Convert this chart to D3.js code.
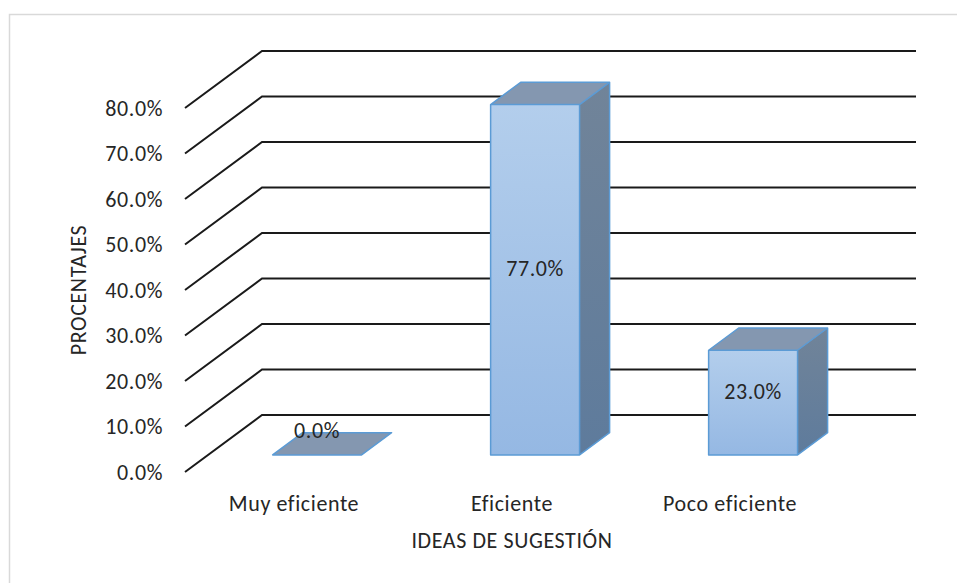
<!DOCTYPE html>
<html>
<head>
<meta charset="utf-8">
<script src="https://cdn.jsdelivr.net/npm/d3@7"></script>
<style>
  html, body { margin: 0; padding: 0; background: #fff; }
  text { font-family: Carlito, Lato, "Liberation Sans", sans-serif; fill: #262626; letter-spacing: 0.6px; }
</style>
</head>
<body>
<div id="chart"></div>
<script>
// data
const categories = ['Muy eficiente', 'Eficiente', 'Poco eficiente'];
const values = [0, 77, 23];
const yTicks = [0, 10, 20, 30, 40, 50, 60, 70, 80];
const xTitle = 'IDEAS DE SUGESTIÓN';
const yTitle = 'PROCENTAJES';

const width = 957, height = 583;
const fontSize = 22;

// front plane of the 3d box, plus the depth offset to the back wall
const front = {left: 185, right: 839, bottom: 472, top: 108};
const depth = {dx: 77, dy: -57};
const barZ0 = 0.3, barZ1 = 0.69;

const svg = d3.select('#chart').append('svg')
    .attr('width', width)
    .attr('height', height);

// chart area border (runs off the right/bottom edge)
svg.append('rect')
    .attr('x', 9.5).attr('y', 14.5)
    .attr('width', 1000).attr('height', 1000)
    .attr('fill', 'none')
    .attr('stroke', '#d9d9d9')
    .attr('stroke-width', 1.5);

const x = d3.scaleBand()
    .domain(categories)
    .range([front.left, front.right])
    .paddingInner(0.592)
    .paddingOuter(0.296);

const y = d3.scaleLinear()
    .domain([0, 80])
    .range([front.bottom, front.top]);

// x, y on the front plane, z from 0 (front) to 1 (back)
function project(px, py, z){
    return [px + z * depth.dx, py + z * depth.dy];
}

const defs = svg.append('defs');
const gFront = defs.append('linearGradient')
    .attr('id', 'gFront').attr('x1', 0).attr('y1', 0).attr('x2', 0).attr('y2', 1);
gFront.append('stop').attr('offset', '0%').attr('stop-color', '#b3ceec');
gFront.append('stop').attr('offset', '100%').attr('stop-color', '#95b8e3');
const gSide = defs.append('linearGradient')
    .attr('id', 'gSide').attr('x1', 0).attr('y1', 0).attr('x2', 0).attr('y2', 1);
gSide.append('stop').attr('offset', '0%').attr('stop-color', '#718499');
gSide.append('stop').attr('offset', '100%').attr('stop-color', '#5e7b9c');

// gridlines: diagonal on the floor wall + horizontal on the back wall
const grid = svg.append('g').attr('class', 'grid');
const gridLine = d3.line();
grid.selectAll('path')
    .data(yTicks)
    .enter().append('path')
    .attr('d', t => gridLine([
        project(front.left, y(t), 0),
        project(front.left, y(t), 1),
        project(front.right, y(t), 1)
    ]))
    .attr('fill', 'none')
    .attr('stroke', '#1a1a1a')
    .attr('stroke-width', 2);

// y tick labels
svg.append('g').selectAll('text')
    .data(yTicks)
    .enter().append('text')
    .attr('x', 163)
    .attr('y', t => y(t))
    .attr('dy', '0.35em')
    .attr('text-anchor', 'end')
    .style('font-size', fontSize + 'px')
    .text(t => t.toFixed(1) + '%');

// bars
const poly = pts => 'M' + pts.map(p => p.join(',')).join('L') + 'Z';
const bars = svg.append('g').attr('class', 'bars');
categories.forEach((c, i) => {
    const v = values[i];
    const x0 = x(c), x1 = x(c) + x.bandwidth();
    const yv = y(v), y0 = y(0);
    const g = bars.append('g');
    if(v > 0){
        g.append('path')
            .attr('d', poly([project(x1, yv, barZ0), project(x1, yv, barZ1), project(x1, y0, barZ1), project(x1, y0, barZ0)]))
            .attr('fill', 'url(#gSide)');
        g.append('path')
            .attr('d', poly([project(x0, yv, barZ0), project(x1, yv, barZ0), project(x1, y0, barZ0), project(x0, y0, barZ0)]))
            .attr('fill', 'url(#gFront)');
    }
    g.append('path')
        .attr('d', poly([project(x0, yv, barZ0), project(x1, yv, barZ0), project(x1, yv, barZ1), project(x0, yv, barZ1)]))
        .attr('fill', '#8497b0');
    // outline
    const outline = v > 0
        ? poly([project(x0, y0, barZ0), project(x0, yv, barZ0), project(x0, yv, barZ1), project(x1, yv, barZ1),
                project(x1, y0, barZ1), project(x1, y0, barZ0)])
          + 'M' + project(x0, yv, barZ0).join(',') + 'L' + project(x1, yv, barZ0).join(',')
          + 'L' + project(x1, yv, barZ1).join(',')
          + 'M' + project(x1, yv, barZ0).join(',') + 'L' + project(x1, y0, barZ0).join(',')
        : poly([project(x0, yv, barZ0), project(x1, yv, barZ0), project(x1, yv, barZ1), project(x0, yv, barZ1)]);
    g.append('path')
        .attr('d', outline)
        .attr('fill', 'none')
        .attr('stroke', '#5b9bd5')
        .attr('stroke-width', 1.5)
        .attr('stroke-linejoin', 'round');

    // data label
    const cx = x(c) + x.bandwidth() / 2;
    const mid = (barZ0 + barZ1) / 2;
    let lp;
    if(v > 0){
        lp = project(cx, y(v / 2), barZ0);
        lp[1] += depth.dy * (mid - barZ0);
    } else {
        // zero bar: label sits just above the flat top
        lp = [project(cx, y0, barZ0)[0], project(cx, y0, barZ1)[1] - 2];
    }
    svg.append('text')
        .attr('x', lp[0])
        .attr('y', lp[1])
        .attr('dy', '0.35em')
        .attr('text-anchor', 'middle')
        .style('font-size', fontSize + 'px')
        .text(v.toFixed(1) + '%');
});

// category labels
svg.append('g').selectAll('text')
    .data(categories)
    .enter().append('text')
    .attr('x', d => x(d) + x.bandwidth() / 2)
    .attr('y', 503)
    .attr('dy', '0.35em')
    .attr('text-anchor', 'middle')
    .style('font-size', fontSize + 'px')
    .text(d => d);

// axis titles
svg.append('text')
    .attr('x', (front.left + front.right) / 2)
    .attr('y', 540)
    .attr('dy', '0.35em')
    .attr('text-anchor', 'middle')
    .style('font-size', fontSize + 'px')
    .text(xTitle);

svg.append('text')
    .attr('transform', 'translate(78,' + y(40) + ')rotate(-90)')
    .attr('dy', '0.35em')
    .attr('text-anchor', 'middle')
    .style('font-size', fontSize + 'px')
    .text(yTitle);
</script>
</body>
</html>
